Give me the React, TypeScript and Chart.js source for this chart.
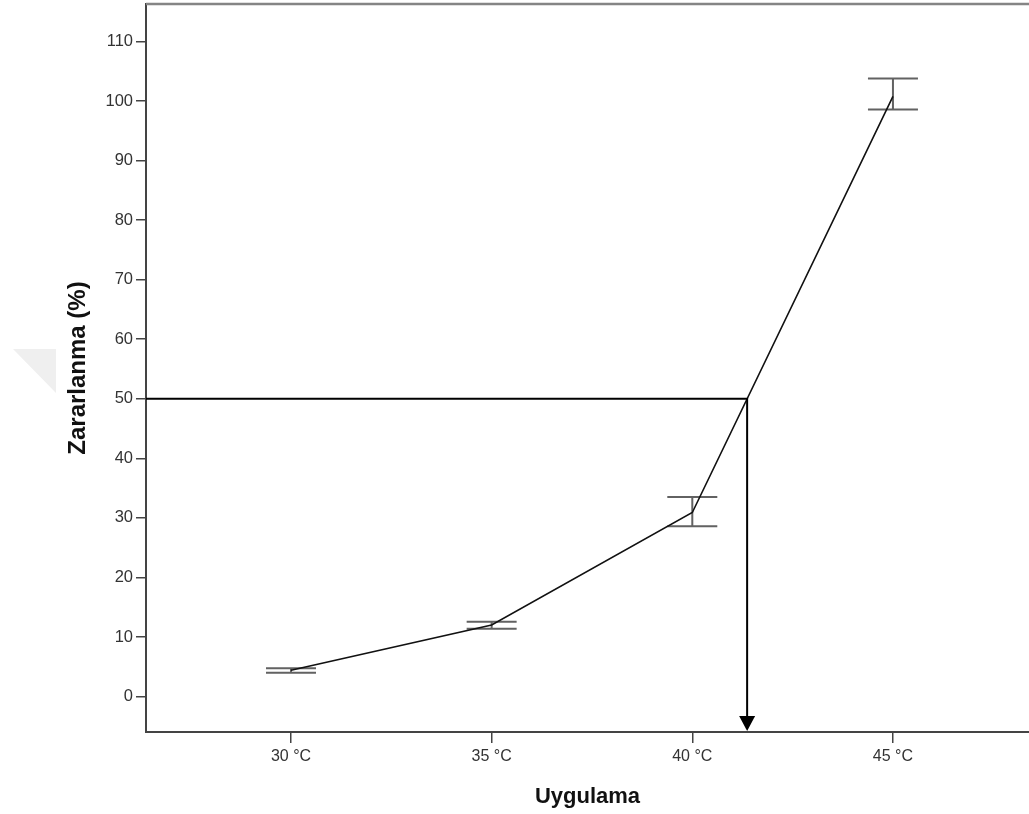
import React, { useEffect, useRef } from "react";
import { Chart, registerables } from "chart.js";

Chart.register(...registerables);

const categories = ["30 °C", "35 °C", "40 °C", "45 °C"];
const meanValues = [4.4, 12.0, 30.9, 100.8];
const errLow = [4.0, 11.4, 28.6, 98.6];
const errHigh = [4.75, 12.55, 33.5, 103.8];
const yTickValues = [0, 10, 20, 30, 40, 50, 60, 70, 80, 90, 100, 110];
const referenceLevel = 50;

const FONT = "'Liberation Sans', Arial, sans-serif";

function crossingX(): number {
  for (let i = 0; i < meanValues.length - 1; i++) {
    const a = meanValues[i];
    const b = meanValues[i + 1];
    if ((a - referenceLevel) * (b - referenceLevel) <= 0) {
      return i + (referenceLevel - a) / (b - a);
    }
  }
  return 0;
}

const decorPlugin = {
  id: "decor",
  beforeDraw(chart: any) {
    const ctx = chart.ctx;
    ctx.save();
    ctx.fillStyle = "#efefef";
    ctx.beginPath();
    ctx.moveTo(13, 349);
    ctx.lineTo(56, 349);
    ctx.lineTo(56, 393);
    ctx.closePath();
    ctx.fill();
    ctx.restore();
  },
  beforeDatasetsDraw(chart: any) {
    const ctx = chart.ctx;
    const xs = chart.scales.x;
    const ys = chart.scales.y;
    ctx.save();
    ctx.strokeStyle = "#626262";
    ctx.lineWidth = 2;
    for (let i = 0; i < meanValues.length; i++) {
      const px = xs.getPixelForValue(i);
      const lo = ys.getPixelForValue(errLow[i]);
      const hi = ys.getPixelForValue(errHigh[i]);
      ctx.beginPath();
      ctx.moveTo(px, lo);
      ctx.lineTo(px, hi);
      ctx.moveTo(px - 25, lo);
      ctx.lineTo(px + 25, lo);
      ctx.moveTo(px - 25, hi);
      ctx.lineTo(px + 25, hi);
      ctx.stroke();
    }
    ctx.restore();
  },
  afterDatasetsDraw(chart: any) {
    const ctx = chart.ctx;
    const xs = chart.scales.x;
    const ys = chart.scales.y;
    const area = chart.chartArea;
    const cx = xs.getPixelForValue(crossingX());
    const cy = ys.getPixelForValue(referenceLevel);
    ctx.save();
    ctx.strokeStyle = "#000";
    ctx.lineWidth = 2;
    ctx.beginPath();
    ctx.moveTo(area.left, cy);
    ctx.lineTo(cx, cy);
    ctx.lineTo(cx, area.bottom - 14);
    ctx.stroke();
    ctx.fillStyle = "#000";
    ctx.beginPath();
    ctx.moveTo(cx - 8, area.bottom - 16);
    ctx.lineTo(cx + 8, area.bottom - 16);
    ctx.lineTo(cx, area.bottom - 1);
    ctx.closePath();
    ctx.fill();
    ctx.restore();
  },
  afterDraw(chart: any) {
    const ctx = chart.ctx;
    const area = chart.chartArea;
    ctx.save();
    ctx.strokeStyle = "#858585";
    ctx.lineWidth = 2.5;
    ctx.beginPath();
    ctx.moveTo(area.left, area.top);
    ctx.lineTo(area.right, area.top);
    ctx.stroke();
    ctx.restore();
  },
};

export default function App() {
  const ref = useRef<HTMLCanvasElement | null>(null);
  useEffect(() => {
    if (!ref.current) return;
    const chart = new Chart(ref.current, {
      type: "line",
      data: {
        datasets: [
          {
            data: meanValues.map((v, i) => ({ x: i, y: v })),
            borderColor: "#111",
            borderWidth: 1.6,
            pointRadius: 0,
            tension: 0,
            fill: false,
          },
        ],
      },
      options: {
        animation: false,
        responsive: false,
        maintainAspectRatio: false,
        layout: { padding: { top: 4, left: 0, right: 0, bottom: 0 } },
        plugins: { legend: { display: false }, tooltip: { enabled: false } },
        scales: {
          x: {
            type: "linear",
            min: -0.7226,
            max: 3.678,
            afterBuildTicks: (s: any) => {
              s.ticks = categories.map((_, i) => ({ value: i }));
            },
            afterFit: (s: any) => {
              s.height = 82;
              s.paddingLeft = 0;
              s.paddingRight = 0;
            },
            ticks: {
              callback: (v: any) => categories[Math.round(Number(v))] ?? "",
              color: "#333",
              font: { family: FONT, size: 16 },
              padding: 4,
              maxRotation: 0,
              autoSkip: false,
            },
            grid: {
              display: true,
              drawOnChartArea: false,
              drawTicks: true,
              tickLength: 11,
              color: "#444",
              lineWidth: 1.5,
            },
            border: { display: true, color: "#444", width: 2 },
            title: {
              display: true,
              text: "Uygulama",
              color: "#111",
              font: { family: FONT, size: 22, weight: "bold" },
              padding: { top: 0, bottom: 4 },
            },
          },
          y: {
            type: "linear",
            min: -5.96,
            max: 116.3,
            afterBuildTicks: (s: any) => {
              s.ticks = yTickValues.map((v) => ({ value: v }));
            },
            afterFit: (s: any) => {
              s.width = 146;
              s.paddingTop = 0;
              s.paddingBottom = 0;
            },
            ticks: {
              color: "#333",
              font: { family: FONT, size: 16.5 },
              padding: 3,
            },
            grid: {
              display: true,
              drawOnChartArea: false,
              drawTicks: true,
              tickLength: 10,
              color: "#444",
              lineWidth: 1.5,
            },
            border: { display: true, color: "#444", width: 2 },
            title: {
              display: true,
              text: "Zararlanma (%)",
              color: "#111",
              font: { family: FONT, size: 24, weight: "bold" },
              padding: { top: 64, bottom: 0 },
            },
          },
        },
      },
      plugins: [decorPlugin],
    });
    return () => chart.destroy();
  }, []);
  return (
    <div style={{ position: "fixed", left: 0, top: 0, width: 1029, height: 814, background: "#fff" }}>
      <canvas ref={ref} width={1029} height={814} style={{ width: 1029, height: 814, display: "block" }} />
    </div>
  );
}
